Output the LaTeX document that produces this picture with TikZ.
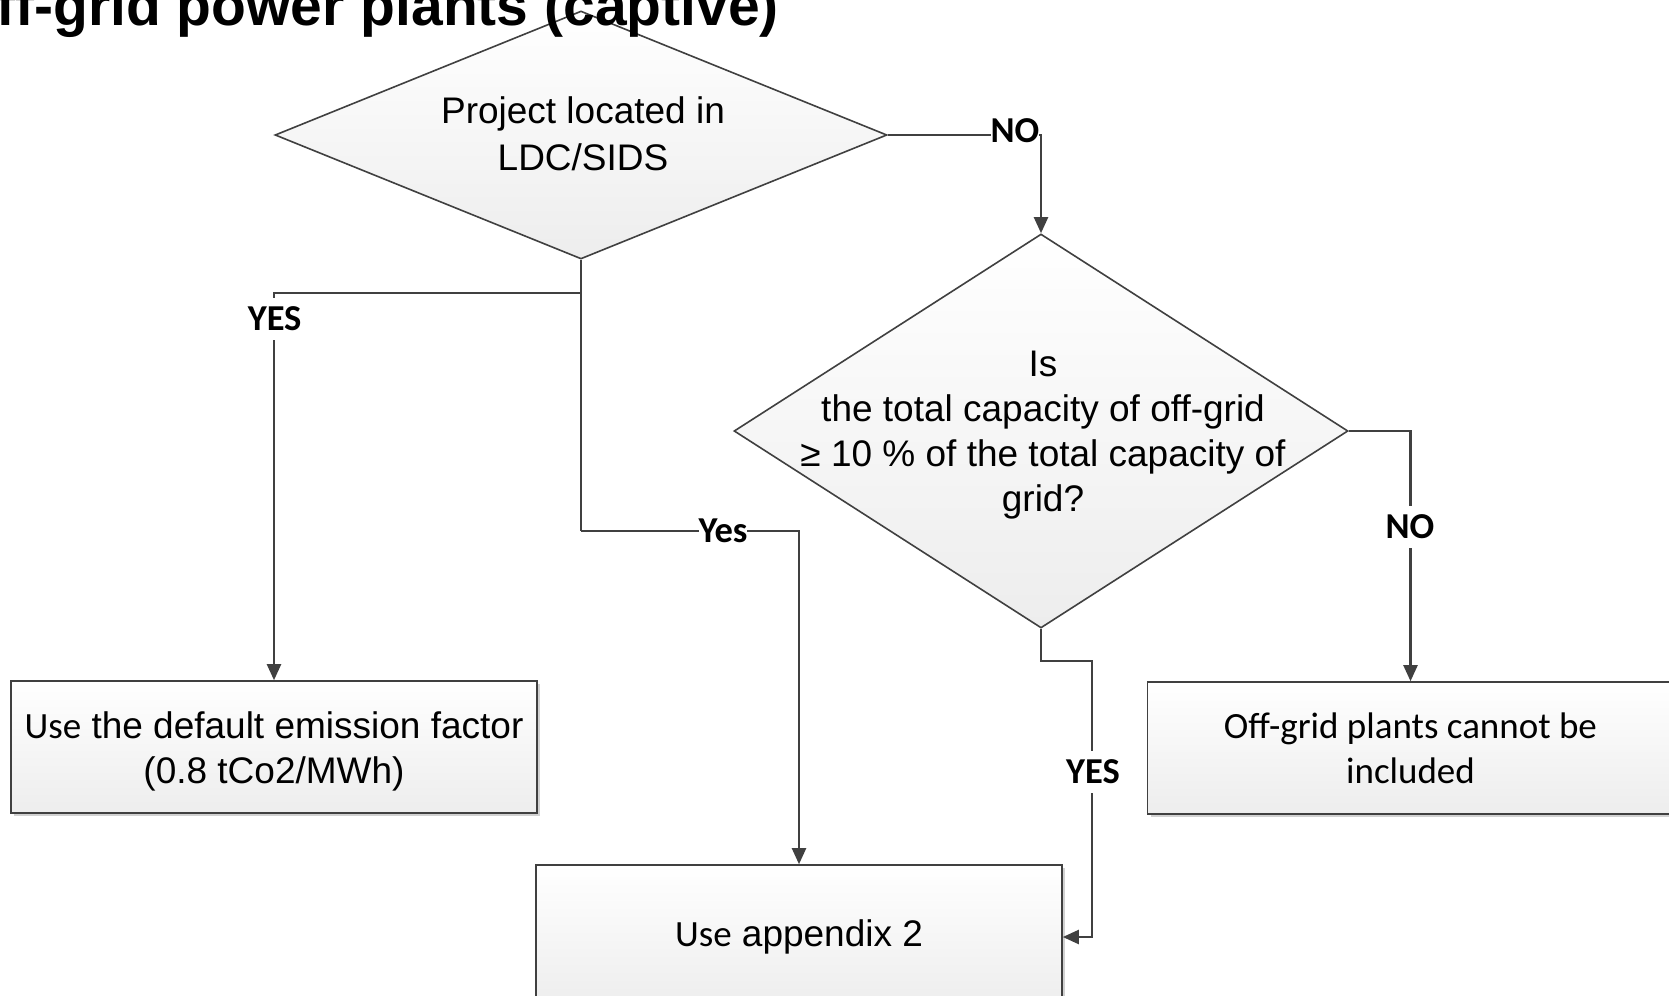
\documentclass[tikz,border=0pt]{standalone}
\usepackage{fontspec}
\setmainfont{Liberation Sans}
\newfontfamily\calfont{Carlito}
\usetikzlibrary{shapes.geometric,arrows.meta,shadows}

\definecolor{edge}{HTML}{404040}
\definecolor{fillbot}{HTML}{EDEDED}

\begin{document}
\begin{tikzpicture}[x=1pt,y=-1pt,
  decision/.style={diamond,draw=edge,line width=1.6pt,inner sep=0pt,
    top color=white,bottom color=fillbot},
  qtext/.style={align=center,font=\fontsize{37}{45}\selectfont,inner sep=0pt},
  outcome/.style={rectangle,draw=edge,line width=1.6pt,align=center,
    minimum width=526pt,minimum height=132pt,inner sep=0pt,
    top color=white,bottom color=fillbot,
    font=\fontsize{37}{45}\selectfont,
    drop shadow={shadow xshift=3pt,shadow yshift=-3pt,fill=black,opacity=0.18}},
  conn/.style={draw=edge,line width=2.2pt,-{Triangle[length=16pt,width=14pt]}},
  plain/.style={draw=edge,line width=2.2pt},
  answer/.style={fill=white,inner sep=0pt,minimum height=42pt,
    font=\calfont\bfseries\fontsize{36.5}{42}\selectfont}]

\clip (0,0) rectangle (1669,995);
\fill[white] (0,0) rectangle (1669,995);

% decisions
\node[decision,minimum width=612pt,minimum height=248pt] (d1) at (581,135) {};
\node[qtext,font=\fontsize{37}{47}\selectfont] (d1t) at (583,134) {Project located in\\LDC/SIDS};

\node[decision,minimum width=614pt,minimum height=394pt] (d2) at (1041,431) {};
\node[qtext] (d2t) at (1043,435) {Is\\the total capacity of off-grid\\%
  ≥ 10 \% of the total capacity of\\grid?};

% outcomes
\node[outcome] (b1) at (274,747) {};
\node[qtext] (b1t) at (274,751)
  {{\calfont Use} the default emission factor\\(0.8 tCo2/MWh)};
\node[outcome,minimum height=144pt] (b2) at (799,937) {{\calfont Use} appendix 2};
\node[outcome,font=\calfont\fontsize{37}{45}\selectfont] (b3) at (1410.5,748)
  {Off-grid plants cannot be\\included};

% heading, only its lower part lies inside the page
\node[anchor=base west,inner sep=0pt,font=\bfseries\fontsize{57}{64}\selectfont]
  (title) at (-48,26) {Off-grid power plants (captive)};

% junction points of the elbow connectors
\coordinate (j1) at (581,293);
\coordinate (j2) at (581,531);
\coordinate (k1) at (1092,661);

% connectors
\draw[conn] (d1.east) -| (d2.north);
\draw[plain] (d1.south) -- (j2);
\draw[conn] (j1) -| (b1.north);
\draw[conn] (j2) -| (b2.north);
\draw[conn] (d2.south) |- (k1) |- (b2.east);
\draw[conn] (d2.east) -| (b3.north);

% answers on the connectors
\node[answer] (no1) at (1015,131) {NO};
\node[answer] (yes1) at (274.6,319) {YES};
\node[answer] (yes2) at (723,531) {Yes};
\node[answer] (yes3) at (1093,772) {YES};
\node[answer] (no2) at (1410,527) {NO};
\end{tikzpicture}
\end{document}
